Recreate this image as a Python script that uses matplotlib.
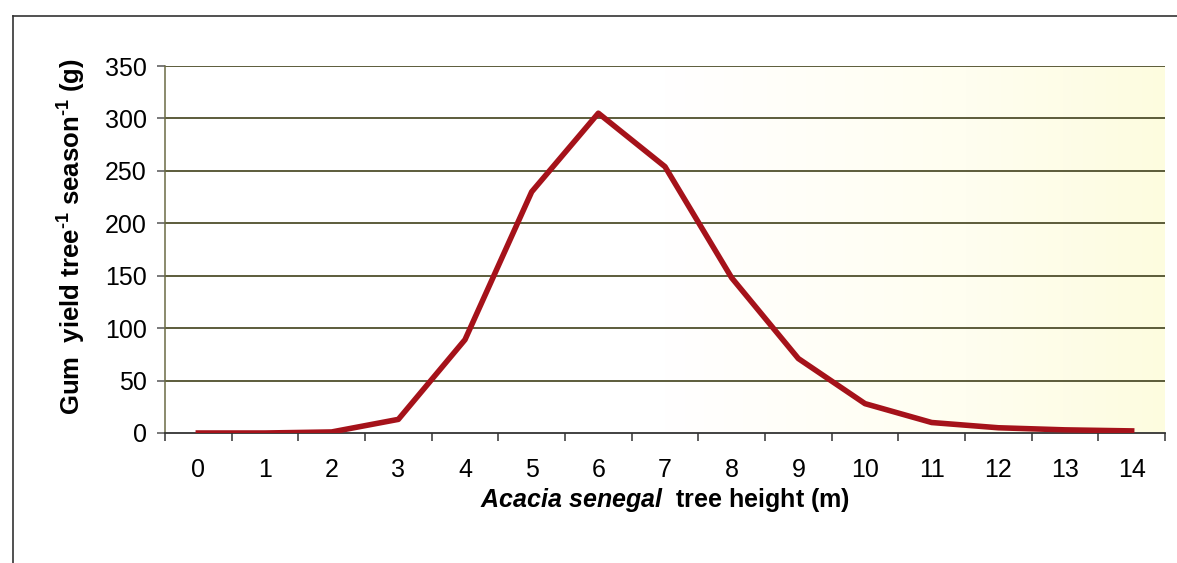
import numpy as np
import matplotlib.pyplot as plt
from matplotlib.lines import Line2D
from matplotlib.colors import LinearSegmentedColormap

# ── Data ──────────────────────────────────────────────────────────────
heights = [0, 1, 2, 3, 4, 5, 6, 7, 8, 9, 10, 11, 12, 13, 14]
gum_yield = [0, 0, 1, 13, 89, 230, 305, 254, 148, 71, 28, 10, 5, 3, 2]
y_ticks = [0, 50, 100, 150, 200, 250, 300, 350]
# ───────────────────────────────────────────────────────────────────────

plt.rcParams['font.family'] = ['Liberation Sans', 'DejaVu Sans']
plt.rcParams['mathtext.fontset'] = 'custom'
plt.rcParams['mathtext.rm'] = 'Liberation Sans:bold'
plt.rcParams['mathtext.bf'] = 'Liberation Sans:bold'
plt.rcParams['mathtext.it'] = 'Liberation Sans:italic:bold'

fig = plt.figure(figsize=(11.77, 5.63), dpi=100)
ax = fig.add_axes([165 / 1177, 1 - 433 / 563, 1000 / 1177, (433 - 66) / 563])

# pale yellow gradient, white on the left half
cmap = LinearSegmentedColormap.from_list(
    "bg", [(0, "#ffffff"), (0.5, "#ffffff"), (0.8, "#fffef0"), (1, "#fdfcdf")])
grad = np.linspace(0, 1, 256).reshape(1, -1)
ax.imshow(grad, cmap=cmap, aspect="auto", extent=[0, 1, 0, 1],
          transform=ax.transAxes, zorder=0)

grid_col = "#4f4f2c"
for v in y_ticks[1:]:
    ax.axhline(v, color=grid_col, lw=1.3, zorder=1)

ax.plot(heights, gum_yield, color="#a5121a", lw=4, zorder=3)

ax.set_xlim(-0.5, len(heights) - 0.5)
ax.set_ylim(0, 350)
ax.set_yticks(y_ticks)
ax.set_xticks(heights)
ax.set_xticklabels([str(h) for h in heights])
ax.set_xticks(np.arange(-0.5, len(heights)), minor=True)
ax.tick_params(axis="x", which="major", length=0, pad=18, labelsize=18)
ax.tick_params(axis="x", which="minor", length=6, width=1.1, color="#333333")
ax.tick_params(axis="y", length=6, width=1.1, color="#555555", pad=7, labelsize=18)

for s in ["top", "right"]:
    ax.spines[s].set_visible(False)
ax.spines["left"].set_color("#6b6b45")
ax.spines["bottom"].set_color("#333333")
ax.spines["left"].set_linewidth(1.1)
ax.spines["bottom"].set_linewidth(1.3)

ax.set_xlabel(r"$\mathit{Acacia\ senegal}$  tree height (m)", fontsize=18,
              fontweight="bold", labelpad=3)
ax.set_ylabel(r"Gum  yield tree$^{\text{-1}}$ season$^{\text{-1}}$ (g)",
              fontsize=18.5, fontweight="bold")
ax.yaxis.set_label_coords(-0.077, 0.535)

# outer frame (left and top edges only visible)
fig.add_artist(Line2D([13 / 1177, 13 / 1177], [0, 1 - 16 / 563],
                      transform=fig.transFigure, color="#333333", lw=1.2))
fig.add_artist(Line2D([13 / 1177, 1], [1 - 16 / 563, 1 - 16 / 563],
                      transform=fig.transFigure, color="#333333", lw=1.2))

fig.savefig("out.png", dpi=100)
